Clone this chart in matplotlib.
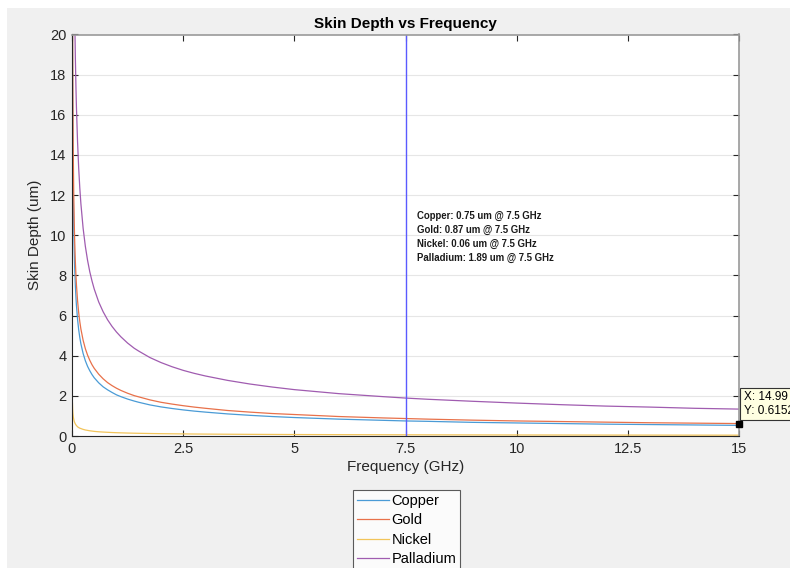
import numpy as np
import matplotlib
matplotlib.use("Agg")
import matplotlib.pyplot as plt
from matplotlib.patches import Rectangle

plt.rcParams['font.family'] = ['Liberation Sans', 'DejaVu Sans']

# frequency samples (GHz) and skin depth (um)
freq = [0.01, 0.015, 0.02, 0.025, 0.03, 0.04, 0.05, 0.06, 0.075, 0.09, 0.1, 0.125, 0.15, 0.175,
        0.2, 0.25, 0.3, 0.35, 0.4, 0.45, 0.5, 0.6, 0.7, 0.8, 0.9, 1, 1.1, 1.25, 1.4, 1.5, 1.75,
        2, 2.25, 2.5, 2.75, 3, 3.5, 4, 4.5, 5, 6, 7, 7.5, 8, 9, 10, 11, 12, 13, 14, 15]
copper = [20.54, 16.77, 14.52, 12.99, 11.86, 10.27, 9.19, 8.39, 7.50, 6.85, 6.50, 5.81, 5.30, 4.91,
          4.59, 4.11, 3.75, 3.47, 3.25, 3.06, 2.90, 2.65, 2.45, 2.30, 2.17, 2.05, 1.96, 1.84, 1.74, 1.68, 1.55,
          1.45, 1.37, 1.30, 1.24, 1.19, 1.10, 1.03, 0.97, 0.92, 0.84, 0.78, 0.75, 0.73, 0.68, 0.65, 0.62, 0.59, 0.57, 0.55, 0.53]
gold = [23.83, 19.45, 16.85, 15.07, 13.76, 11.91, 10.66, 9.73, 8.70, 7.94, 7.53, 6.74, 6.15, 5.70,
        5.33, 4.77, 4.35, 4.03, 3.77, 3.55, 3.37, 3.08, 2.85, 2.66, 2.51, 2.38, 2.27, 2.13, 2.01, 1.95, 1.80,
        1.68, 1.59, 1.51, 1.44, 1.38, 1.27, 1.19, 1.12, 1.07, 0.97, 0.90, 0.87, 0.84, 0.79, 0.75, 0.72, 0.69, 0.66, 0.64, 0.62]
nickel = [1.64, 1.34, 1.16, 1.04, 0.95, 0.82, 0.73, 0.67, 0.60, 0.55, 0.52, 0.46, 0.42, 0.39,
          0.37, 0.33, 0.30, 0.28, 0.26, 0.245, 0.23, 0.21, 0.196, 0.184, 0.173, 0.164, 0.157, 0.147, 0.139, 0.134, 0.124,
          0.116, 0.110, 0.104, 0.099, 0.095, 0.088, 0.082, 0.077, 0.073, 0.067, 0.062, 0.060, 0.058, 0.055, 0.052, 0.050, 0.047, 0.046, 0.044, 0.042]
palladium = [51.76, 42.26, 36.60, 32.74, 29.88, 25.88, 23.15, 21.13, 18.90, 17.25, 16.37, 14.64, 13.36, 12.37,
             11.57, 10.35, 9.45, 8.75, 8.18, 7.72, 7.32, 6.68, 6.19, 5.79, 5.46, 5.18, 4.94, 4.63, 4.37, 4.23, 3.91,
             3.66, 3.45, 3.27, 3.12, 2.99, 2.77, 2.59, 2.44, 2.31, 2.11, 1.96, 1.89, 1.83, 1.73, 1.64, 1.56, 1.49, 1.44, 1.38, 1.34]

names = ["Copper", "Gold", "Nickel", "Palladium"]
colors = ["#4a9bd6", "#e8714a", "#f2c45a", "#a05cb0"]
f_mark = 7.5
depth_at_mark = [0.75, 0.87, 0.06, 1.89]
tip_x, tip_y = 14.99, 0.6152

fig = plt.figure(figsize=(7.9, 5.68), dpi=100, facecolor="white")
fig.patches.append(Rectangle((7 / 790, 0), 1, 1 - 8 / 568, transform=fig.transFigure,
                             facecolor="#f0f0f0", edgecolor="none", zorder=-10))
ax = fig.add_axes([72 / 790, 1 - 436 / 568, 667 / 790, 401.5 / 568])

for name, ys, c in zip(names, [copper, gold, nickel, palladium], colors):
    ax.plot(freq, ys, color=c, lw=0.9, label=name)

ax.axvline(f_mark, color="#5a5aff", lw=1.0)

lines = [f"{n}: {d:.2f} um @ {f_mark} GHz" for n, d in zip(names, depth_at_mark)]
ax.text(7.76, 9.9, "\n".join(lines), fontsize=6.9, fontweight="bold", va="center",
        linespacing=1.5, color="#1a1a1a")

# data tip
ax.plot(tip_x, tip_y, "s", color="black", ms=5, clip_on=False, zorder=5)
ax.annotate(f"X: {tip_x}\nY: {tip_y}", xy=(tip_x, tip_y), xytext=(744 / 790, 1 - 404 / 568),
            textcoords="figure fraction", fontsize=8.5, va="center", ha="left",
            bbox=dict(boxstyle="square,pad=0.3", fc="#ffffe1", ec="#333333", lw=0.8),
            annotation_clip=False)

ax.set_xlim(0, 15)
ax.set_ylim(0, 20)
ax.set_xticks(np.arange(0, 15.1, 2.5))
ax.set_xticklabels(["0", "2.5", "5", "7.5", "10", "12.5", "15"])
ax.set_yticks(np.arange(0, 21, 2))
ax.grid(axis="y", color="#e6e6e6", lw=0.8)
ax.set_axisbelow(True)
ax.tick_params(direction="in", length=4, labelsize=10.5, colors="#262626", top=True, right=True, pad=4)
for s in ["left", "bottom"]:
    ax.spines[s].set_color("#262626")
for s in ["top", "right"]:
    ax.spines[s].set_color("#9a9a9a")
    ax.spines[s].set_linewidth(1.2)

ax.set_xlabel("Frequency (GHz)", fontsize=11, color="#262626", labelpad=3)
ax.set_ylabel("Skin Depth (um)", fontsize=11, color="#262626", labelpad=6)
ax.set_title("Skin Depth vs Frequency", fontsize=11, fontweight="bold", pad=5)

leg = fig.legend(loc="upper left", bbox_to_anchor=(353 / 790, 1 - 490 / 568), fontsize=10.5,
                 frameon=True, fancybox=False, handlelength=2.2, borderpad=0.25,
                 labelspacing=0.38, handletextpad=0.2, borderaxespad=0)
leg.get_frame().set_edgecolor("#333333")
leg.get_frame().set_linewidth(0.8)
leg.get_frame().set_facecolor("white")

fig.savefig("out.png", dpi=100)
